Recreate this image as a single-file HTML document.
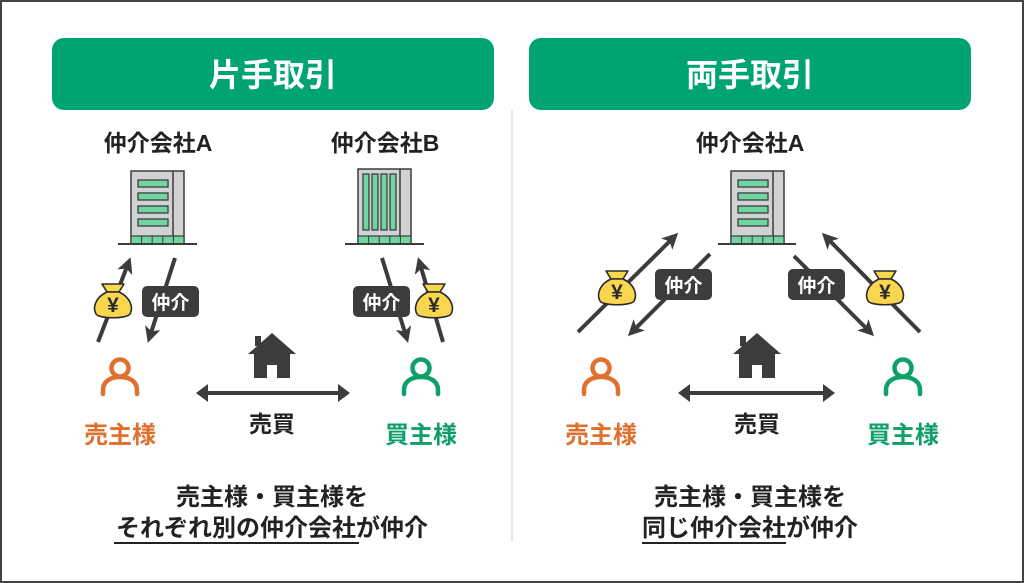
<!DOCTYPE html>
<html><head><meta charset="utf-8"><style>
html,body{margin:0;padding:0;background:#fff}
svg{display:block}
text{font-family:"Liberation Sans","Noto Sans CJK JP",sans-serif;font-weight:bold}
</style></head><body>
<svg width="1024" height="583" viewBox="0 0 1024 583" xmlns="http://www.w3.org/2000/svg">
<defs>
<marker id="ah" markerWidth="4" markerHeight="4" refX="2.2" refY="2" orient="auto" markerUnits="strokeWidth">
<path d="M0,0 L4,2 L0,4 L1,2 Z" fill="#3d3b3c"/></marker>
<g id="bag">
<path d="M-11,-18 L11,-18 L6,-10 L-6,-10 Z" fill="#f8d64e" stroke="#2b2b2b" stroke-width="1.6" stroke-linejoin="round"/>
<path d="M-6,-10 C-19,-4 -20,7 -17,12 C-14,17 14,17 17,12 C20,7 19,-4 6,-10 Z" fill="#f8d64e" stroke="#2b2b2b" stroke-width="1.6"/>
<text x="0" y="10" font-size="21" text-anchor="middle" fill="#2b2b2b">¥</text>
</g>
<g id="person" fill="none" stroke-width="4.5" stroke-linecap="round">
<circle cx="0" cy="-8" r="8.5"/>
<path d="M-17,18 L-17,14 C-17,5 -9,1 0,1 C9,1 17,5 17,14 L17,18"/>
</g>
<g id="house" fill="#3d3b3c">
<path d="M0,0 L24,21 L18,21 L18,45 L5,45 L5,32 L-5,32 L-5,45 L-18,45 L-18,21 L-24,21 Z"/>
<rect x="-17" y="3" width="6" height="10"/>
</g>
<g id="bldgA">
<rect x="0" y="0" width="53" height="73" fill="#d1d2d4" stroke="#3d3b3c" stroke-width="1.5"/>
<line x1="42" y1="0" x2="42" y2="65" stroke="#3d3b3c" stroke-width="1.5"/>
<rect x="0" y="65" width="53" height="8" fill="#6fd6a2" stroke="#3d3b3c" stroke-width="1.2"/>
<path d="M10.6,65v8M21.2,65v8M31.8,65v8M42.4,65v8" stroke="#3d3b3c" stroke-width="1"/>
<g fill="#6fd6a2" stroke="#3d3b3c" stroke-width="1.3">
<rect x="7" y="9" width="30" height="7"/><rect x="7" y="22" width="30" height="7"/>
<rect x="7" y="35" width="30" height="7"/><rect x="7" y="48" width="30" height="7"/></g>
</g>
</defs>
<rect x="1" y="1" width="1022" height="581" fill="#fff" stroke="#444" stroke-width="2"/>
<line x1="512" y1="110" x2="512" y2="542" stroke="#e6e6e6" stroke-width="2"/>

<rect x="52" y="38" width="442" height="72" rx="12" fill="#00a372"/>
<text x="273" y="86" font-size="32" fill="#fff" text-anchor="middle">片手取引</text>
<rect x="529" y="38" width="442" height="72" rx="12" fill="#00a372"/>
<text x="750" y="86" font-size="32" fill="#fff" text-anchor="middle">両手取引</text>

<!-- LEFT -->
<text x="158" y="151" font-size="23" text-anchor="middle" fill="#222">仲介会社A</text>
<text x="385" y="151" font-size="23" text-anchor="middle" fill="#222">仲介会社B</text>
<use href="#bldgA" x="131" y="171"/>
<line x1="118" y1="244" x2="197" y2="244" stroke="#3d3b3c" stroke-width="2"/>
<g transform="translate(358,169)">
<rect x="0" y="0" width="53" height="75" fill="#d1d2d4" stroke="#3d3b3c" stroke-width="1.5"/>
<line x1="42" y1="0" x2="42" y2="67" stroke="#3d3b3c" stroke-width="1.5"/>
<rect x="0" y="67" width="53" height="8" fill="#6fd6a2" stroke="#3d3b3c" stroke-width="1.2"/>
<path d="M10.6,67v8M21.2,67v8M31.8,67v8M42.4,67v8" stroke="#3d3b3c" stroke-width="1"/>
<g fill="#6fd6a2" stroke="#3d3b3c" stroke-width="1.3">
<rect x="5" y="5" width="6" height="56"/><rect x="14" y="5" width="6" height="56"/>
<rect x="23" y="5" width="6" height="56"/><rect x="32" y="5" width="6" height="56"/></g>
</g>
<line x1="345" y1="244" x2="424" y2="244" stroke="#3d3b3c" stroke-width="2"/>

<g stroke="#3d3b3c" stroke-width="4" marker-end="url(#ah)">
<line x1="98" y1="342" x2="128" y2="264"/>
<line x1="175" y1="258" x2="150" y2="336"/>
<line x1="382" y1="258" x2="406" y2="336"/>
<line x1="443" y1="342" x2="420" y2="264"/>
</g>
<use href="#bag" x="113" y="302"/>
<use href="#bag" x="434" y="302"/>
<rect x="142" y="286" width="57" height="31" rx="5" fill="#3d3b3c"/>
<text x="170.5" y="309" font-size="19" fill="#fff" text-anchor="middle">仲介</text>
<rect x="353" y="286" width="57" height="31" rx="5" fill="#3d3b3c"/>
<text x="381.5" y="309" font-size="19" fill="#fff" text-anchor="middle">仲介</text>

<use href="#person" x="120" y="376" stroke="#e0702e"/>
<use href="#person" x="421" y="376" stroke="#0fa06a"/>
<use href="#house" x="272" y="333"/>
<line x1="204" y1="393" x2="342" y2="393" stroke="#3d3b3c" stroke-width="4"/>
<path d="M196,393 L208,384 L208,402 Z M350,393 L338,384 L338,402 Z" fill="#3d3b3c"/>
<text x="120" y="443" font-size="24" fill="#e0702e" text-anchor="middle">売主様</text>
<text x="421" y="443" font-size="24" fill="#0fa06a" text-anchor="middle">買主様</text>
<text x="272" y="432" font-size="23" fill="#222" text-anchor="middle">売買</text>
<text x="272" y="505" font-size="24" fill="#222" text-anchor="middle">売主様・買主様を</text>
<text x="272" y="536" font-size="24" fill="#222" text-anchor="middle">それぞれ別の仲介会社が仲介</text>
<line x1="114" y1="543" x2="359" y2="543" stroke="#222" stroke-width="2"/>

<!-- RIGHT -->
<text x="750" y="151" font-size="23" text-anchor="middle" fill="#222">仲介会社A</text>
<use href="#bldgA" x="731" y="171"/>
<line x1="718" y1="244" x2="796" y2="244" stroke="#3d3b3c" stroke-width="2"/>
<g stroke="#3d3b3c" stroke-width="4" marker-end="url(#ah)">
<line x1="578" y1="332" x2="673" y2="238"/>
<line x1="710" y1="254" x2="633" y2="331"/>
<line x1="794" y1="256" x2="869" y2="331"/>
<line x1="920" y1="332" x2="827" y2="238"/>
</g>
<use href="#bag" x="617" y="289"/>
<use href="#bag" x="885" y="289"/>
<rect x="655" y="269" width="57" height="31" rx="5" fill="#3d3b3c"/>
<text x="683.5" y="292" font-size="19" fill="#fff" text-anchor="middle">仲介</text>
<rect x="788" y="269" width="57" height="31" rx="5" fill="#3d3b3c"/>
<text x="816.5" y="292" font-size="19" fill="#fff" text-anchor="middle">仲介</text>

<use href="#person" x="601" y="376" stroke="#e0702e"/>
<use href="#person" x="903" y="376" stroke="#0fa06a"/>
<use href="#house" x="757" y="333"/>
<line x1="686" y1="393" x2="827" y2="393" stroke="#3d3b3c" stroke-width="4"/>
<path d="M678,393 L690,384 L690,402 Z M835,393 L823,384 L823,402 Z" fill="#3d3b3c"/>
<text x="601" y="443" font-size="24" fill="#e0702e" text-anchor="middle">売主様</text>
<text x="903" y="443" font-size="24" fill="#0fa06a" text-anchor="middle">買主様</text>
<text x="757" y="432" font-size="23" fill="#222" text-anchor="middle">売買</text>
<text x="750" y="505" font-size="24" fill="#222" text-anchor="middle">売主様・買主様を</text>
<text x="750" y="536" font-size="24" fill="#222" text-anchor="middle">同じ仲介会社が仲介</text>
<line x1="642" y1="543" x2="786" y2="543" stroke="#222" stroke-width="2"/>
</svg>
</body></html>
